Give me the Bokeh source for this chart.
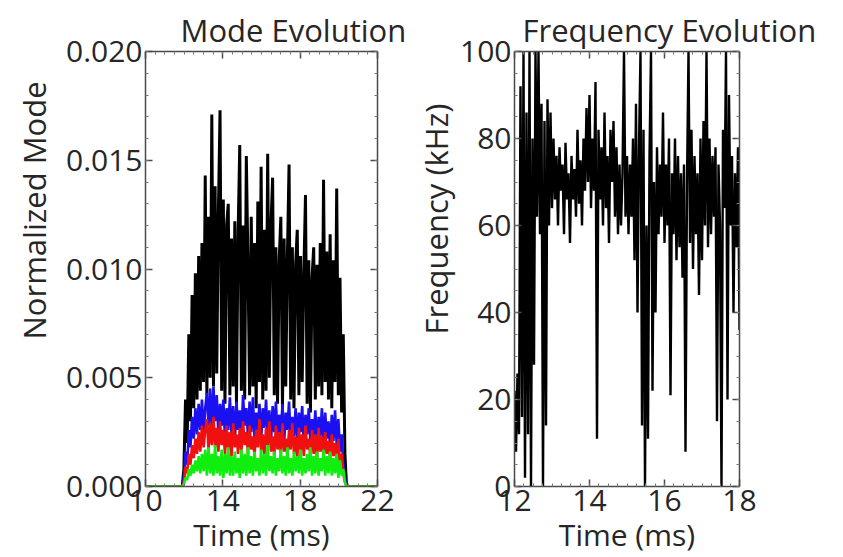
import numpy as np
from bokeh.plotting import figure
from bokeh.layouts import row
from bokeh.models import Title, LinearAxis, FixedTicker, PrintfTickFormatter, Range1d
from bokeh.embed import file_html
from bokeh.resources import INLINE

# ---------------- data: Mode Evolution (values in units of 1e-3) ----------------
mode_t_range = [11.9, 20.4]
mode_black = [
    0.0, 0.8, 4.0, 2.0, 7.0, 3.0, 8.8, 3.6, 9.8, 4.0,
    10.6, 4.4, 11.2, 4.8, 14.3, 4.2, 12.4, 5.0, 17.1, 4.6,
    13.8, 5.2, 12.6, 17.3, 4.4, 13.2, 3.8, 12.0, 13.0, 4.2,
    11.4, 4.6, 12.2, 3.8, 11.6, 15.7, 4.4, 12.0, 4.0, 15.2,
    10.2, 4.2, 12.4, 4.6, 11.2, 3.6, 13.1, 4.8, 14.7, 4.0,
    11.8, 4.4, 15.3, 5.0, 12.0, 14.2, 4.2, 11.0, 3.8, 10.4,
    12.4, 3.6, 11.4, 4.6, 10.6, 14.8, 4.0, 11.0, 3.6, 10.2,
    11.8, 4.2, 10.6, 4.8, 9.8, 13.4, 3.8, 10.4, 3.4, 9.6,
    11.0, 4.0, 10.2, 4.6, 11.2, 4.2, 14.1, 4.8, 10.8, 4.0,
    11.6, 3.6, 10.4, 4.8, 13.7, 4.2, 9.6, 3.4, 7.0, 1.5, 0.0,
]
mode_blue = [
    0.0, 0.4, 1.6, 1.0, 2.6, 1.8, 3.2, 2.2, 3.6, 2.4,
    3.8, 2.6, 4.0, 2.4, 3.6, 4.3, 2.8, 4.5, 2.6, 4.6,
    3.0, 4.2, 2.4, 3.8, 2.8, 4.0, 2.2, 3.6, 2.6, 4.1,
    2.4, 3.7, 2.0, 3.9, 2.6, 3.5, 2.2, 4.2, 2.8, 3.6,
    2.3, 3.9, 2.5, 4.1, 2.2, 3.4, 2.6, 3.8, 2.1, 3.6,
    2.7, 4.0, 2.3, 3.5, 2.0, 3.7, 2.5, 3.9, 2.2, 3.3,
    2.4, 3.8, 2.0, 3.4, 2.6, 3.9, 2.1, 3.2, 2.3, 3.6,
    2.0, 3.4, 2.5, 3.7, 1.9, 3.3, 2.4, 3.6, 2.0, 3.1,
    2.2, 3.5, 1.8, 3.2, 2.3, 3.6, 1.9, 3.4, 2.2, 3.0,
    1.8, 3.3, 2.1, 3.5, 1.9, 3.1, 1.6, 2.4, 1.0, 0.4, 0.0,
]
mode_red = [
    0.0, 0.2, 0.9, 0.6, 1.5, 1.0, 1.9, 1.3, 2.2, 1.5,
    2.5, 1.6, 2.8, 1.8, 2.6, 3.1, 1.7, 2.9, 1.9, 3.2,
    1.8, 2.7, 1.6, 3.0, 1.9, 2.6, 1.5, 2.8, 1.7, 2.5,
    1.4, 2.9, 1.8, 2.4, 1.5, 2.7, 1.6, 3.0, 1.9, 2.5,
    1.5, 2.8, 1.7, 2.3, 1.4, 2.6, 1.8, 3.1, 1.6, 2.4,
    1.5, 2.7, 1.9, 3.0, 1.6, 2.3, 1.4, 2.8, 1.7, 2.5,
    1.5, 2.9, 1.6, 2.2, 1.4, 2.6, 1.7, 2.9, 1.5, 2.3,
    1.3, 2.7, 1.6, 2.4, 1.4, 2.8, 1.7, 2.2, 1.3, 2.6,
    1.5, 2.4, 1.2, 2.7, 1.6, 2.3, 1.3, 2.5, 1.5, 2.1,
    1.2, 2.4, 1.4, 2.0, 1.1, 2.2, 1.0, 1.5, 0.6, 0.2, 0.0,
]
mode_green = [
    0.0, 0.1, 0.4, 0.3, 0.8, 0.5, 1.0, 0.6, 1.2, 0.7,
    1.4, 0.6, 1.5, 0.7, 1.7, 0.5, 1.8, 0.6, 1.5, 0.5,
    1.9, 0.6, 1.4, 0.5, 1.7, 0.4, 1.5, 0.6, 1.8, 0.5,
    1.4, 0.5, 1.6, 0.6, 1.3, 0.4, 1.7, 0.6, 1.5, 0.5,
    1.8, 0.6, 1.4, 0.5, 1.6, 0.7, 1.3, 0.5, 1.7, 0.6,
    1.5, 0.5, 1.9, 0.7, 1.4, 0.6, 1.6, 0.5, 1.3, 0.7,
    1.7, 0.6, 1.4, 0.5, 1.8, 0.6, 1.3, 0.5, 1.6, 0.7,
    1.4, 0.6, 1.7, 0.5, 1.3, 0.6, 1.5, 0.7, 1.8, 0.5,
    1.4, 0.6, 1.6, 0.5, 1.3, 0.7, 1.7, 0.5, 1.4, 0.6,
    1.6, 0.5, 1.3, 0.6, 1.5, 0.4, 1.2, 0.5, 0.8, 0.2, 0.0,
]
mode_x_ticks = [10, 14, 18, 22]
mode_y_ticks = [0.0, 0.005, 0.010, 0.015, 0.020]

# ---------------- data: Frequency Evolution (kHz) ----------------
freq_t_range = [12.0, 18.0]
freq_khz = [
    22, 8, 26, 12, 92, 16, 100, 2, 86, 12,
    100, 0, 80, 28, 100, 62, 100, 58, 88, 0,
    84, 14, 89, 60, 86, 64, 80, 66, 76, 60,
    78, 68, 74, 58, 79, 66, 72, 56, 76, 66,
    73, 62, 82, 65, 75, 60, 80, 68, 87, 70,
    90, 64, 80, 68, 93, 11, 82, 66, 78, 60,
    86, 64, 76, 56, 82, 70, 84, 62, 78, 58,
    74, 60, 72, 100, 62, 76, 58, 74, 62, 80,
    52, 88, 40, 78, 100, 14, 82, 0, 60, 11,
    76, 100, 22, 70, 40, 78, 58, 74, 62, 86,
    56, 74, 60, 80, 21, 72, 58, 80, 52, 76,
    55, 72, 48, 74, 8, 70, 100, 56, 82, 50,
    76, 58, 72, 44, 80, 52, 84, 60, 100, 55,
    80, 58, 76, 62, 78, 15, 74, 60, 0, 82,
    64, 100, 20, 90, 60, 76, 40, 72, 55, 78, 36,
]
freq_x_ticks = [12, 14, 16, 18]
freq_y_ticks = [0, 20, 40, 60, 80, 100]

FONT = "Open Sans"
TXT = "#262626"
AX = "#4a4a4a"


def style_axis(ax, labels=True):
    ax.major_tick_in = 7
    ax.major_tick_out = 0
    ax.minor_tick_in = 3
    ax.minor_tick_out = 0
    ax.axis_line_color = AX
    ax.axis_line_width = 1.5
    ax.major_tick_line_color = AX
    ax.major_tick_line_width = 1.5
    ax.minor_tick_line_color = "#777777"
    ax.major_label_text_font = FONT
    ax.major_label_text_color = TXT
    ax.axis_label_text_font = FONT
    ax.axis_label_text_font_style = "normal"
    ax.axis_label_text_color = TXT
    ax.axis_label_text_font_size = "30px"
    ax.axis_label_standoff = 0
    if labels:
        ax.major_label_text_font_size = "30px"
        ax.major_label_standoff = 3
    else:
        ax.major_label_text_color = None
        ax.major_label_standoff = 0


def side_title(text, offset, standoff):
    return Title(text=text, align="left", offset=offset, text_font=FONT,
                 text_font_size="31px", text_font_style="normal", text_color=TXT,
                 standoff=standoff)


def style_title(t, text, offset):
    t.text = text
    t.align = "left"
    t.offset = offset
    t.text_font = FONT
    t.text_font_size = "31px"
    t.text_font_style = "normal"
    t.text_color = TXT
    t.standoff = 2


# ---------------- left panel ----------------
p1 = figure(width=412, height=557, output_backend="svg", toolbar_location=None,
            min_border_left=145, min_border_right=35, min_border_top=50, min_border_bottom=70,
            x_range=Range1d(10, 22), y_range=Range1d(0, 0.020))
p1.outline_line_color = None
p1.grid.visible = False
style_title(p1.title, "Mode Evolution", 35)

mode_time = np.concatenate([[10.0], np.linspace(mode_t_range[0], mode_t_range[1], len(mode_black)), [22.0]])


def scaled(v):
    return np.concatenate([[0.0], np.asarray(v, dtype=float) * 1e-3, [0.0]])


p1.line(mode_time, scaled(mode_black), line_color="black", line_width=3.0)
p1.line(mode_time, scaled(mode_blue), line_color="#1a10f0", line_width=2.6)
p1.line(mode_time, scaled(mode_red), line_color="#f01010", line_width=2.6)
p1.line(mode_time, scaled(mode_green), line_color="#10ee10", line_width=2.6)

mx_minor = [v / 2 for v in range(20, 45)]
my_minor = [v / 1000 for v in range(0, 21)]
xt1 = FixedTicker(ticks=mode_x_ticks, minor_ticks=mx_minor)
yt1 = FixedTicker(ticks=mode_y_ticks, minor_ticks=my_minor)
p1.add_layout(LinearAxis(ticker=xt1), "above")
p1.add_layout(LinearAxis(ticker=yt1), "right")
p1.xaxis.ticker = xt1
p1.yaxis.ticker = yt1
for ax in p1.below + p1.left:
    style_axis(ax, True)
for ax in p1.above + p1.right:
    style_axis(ax, False)
p1.yaxis[0].formatter = PrintfTickFormatter(format="%.3f")
p1.below[0].axis_label = "Time (ms)"
p1.add_layout(side_title("Normalized Mode", 147, 18), "left")

# ---------------- right panel ----------------
p2 = figure(width=431, height=557, output_backend="svg", toolbar_location=None,
            min_border_left=95, min_border_right=104, min_border_top=51, min_border_bottom=70,
            x_range=Range1d(12, 18), y_range=Range1d(0, 100))
p2.outline_line_color = None
p2.grid.visible = False
style_title(p2.title, "Frequency Evolution", 8)

freq_time = np.linspace(freq_t_range[0], freq_t_range[1], len(freq_khz))
p2.line(freq_time, freq_khz, line_color="black", line_width=2.4)

xt2 = FixedTicker(ticks=freq_x_ticks, minor_ticks=[12 + v * 0.25 for v in range(25)])
yt2 = FixedTicker(ticks=freq_y_ticks, minor_ticks=list(range(0, 101, 5)))
p2.add_layout(LinearAxis(ticker=xt2), "above")
p2.add_layout(LinearAxis(ticker=yt2), "right")
p2.xaxis.ticker = xt2
p2.yaxis.ticker = yt2
for ax in p2.below + p2.left:
    style_axis(ax, True)
for ax in p2.above + p2.right:
    style_axis(ax, False)
p2.below[0].axis_label = "Time (ms)"
p2.add_layout(side_title("Frequency (kHz)", 152, 1), "left")

layout = row(p1, p2)
open("out.html", "w").write(file_html(layout, INLINE))
